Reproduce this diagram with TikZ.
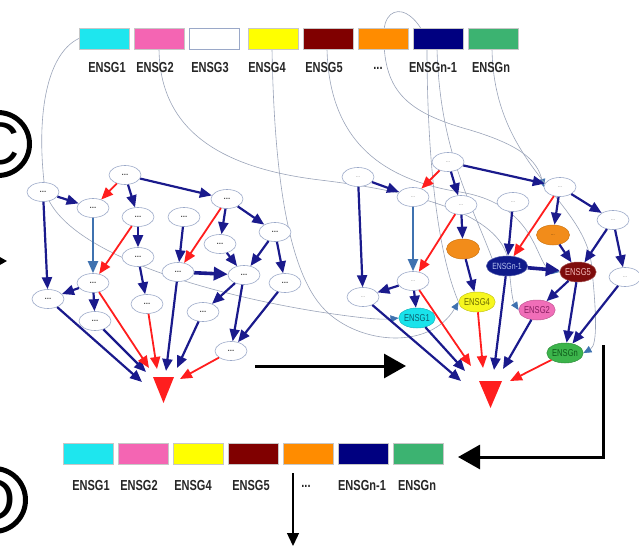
\documentclass[tikz,border=0pt]{standalone}
\usepackage{fontspec}
\setmainfont{Liberation Sans}
\newfontfamily\lblfont[FakeStretch=0.76]{Liberation Sans}
\usetikzlibrary{arrows.meta,shapes.geometric}
\pgfdeclarelayer{bg}
\pgfsetlayers{bg,main}
\definecolor{nvc}{HTML}{1A1A8C}
\definecolor{rdc}{HTML}{FF1E1E}
\definecolor{sbc}{HTML}{3F72B0}
\definecolor{mpc}{HTML}{9AA3B8}
\definecolor{bdc}{HTML}{9AA8C8}
\definecolor{cyn}{HTML}{1EE6EE}
\definecolor{pnk}{HTML}{F465B3}
\definecolor{ylw}{HTML}{FFFF00}
\definecolor{mrn}{HTML}{800000}
\definecolor{org}{HTML}{FF8C00}
\definecolor{nvy}{HTML}{000080}
\definecolor{grn}{HTML}{3CB371}
\definecolor{cynN}{HTML}{19E3EB}\definecolor{cynT}{HTML}{0B5E6E}
\definecolor{ylwN}{HTML}{F7F71E}\definecolor{ylwT}{HTML}{6B6B00}
\definecolor{pnkN}{HTML}{F06EB8}\definecolor{pnkT}{HTML}{8A1F62}
\definecolor{mrnN}{HTML}{7E0C0C}\definecolor{mrnT}{HTML}{F2B8B8}
\definecolor{nvyN}{HTML}{0F1A8A}\definecolor{nvyT}{HTML}{B8C4F0}
\definecolor{grnN}{HTML}{3CB44B}\definecolor{grnT}{HTML}{0E5A1A}
\definecolor{orgN}{HTML}{F28C1A}
\begin{document}
\begin{tikzpicture}[x=1pt,y=-1pt,
  bx/.style={draw=black!22, line width=0.5pt, minimum width=50pt, minimum height=21pt, inner sep=0pt},
  lb/.style={font=\lblfont\bfseries\fontsize{14.5}{14.5}\selectfont, text=black!85, inner sep=0pt},
  wn/.style={ellipse, draw=bdc, line width=0.6pt, fill=white, minimum width=32pt, minimum height=19pt, inner sep=0pt, font=\fontsize{8}{8}\selectfont\bfseries, text=black!70},
  wr/.style={wn, font=\fontsize{5}{5}\selectfont, text=black!60},
  cn/.style={ellipse, line width=0.5pt, minimum width=33pt, minimum height=20pt, inner sep=0pt, font=\lblfont\fontsize{10}{10}\selectfont},
  nv/.style={draw=nvc, line width=2.2pt, -{Triangle[length=12pt,width=10pt]}},
  nvk/.style={draw=nvc, line width=3.6pt, -{Triangle[length=14pt,width=13pt]}},
  rd/.style={draw=rdc, line width=1.8pt, -{Triangle[length=12pt,width=10pt]}},
  sb/.style={draw=sbc, line width=2pt, -{Triangle[length=12pt,width=10pt]}},
  mp/.style={draw=mpc, line width=0.6pt, -{Triangle[length=8pt,width=7pt,color=sbc]}},
  mq/.style={draw=mpc, line width=0.6pt},
  bk/.style={draw=black, line width=3pt, -{Triangle[length=22pt,width=24pt]}},
  tk/.style={draw=black, line width=1.3pt, -{Triangle[length=13pt,width=12pt]}},
  tri/.style={fill=rdc},
  ring/.style={circle, draw=black, line width=5pt, minimum size=63pt, inner sep=0pt, font=\fontsize{60}{60}\selectfont}
]
\useasboundingbox (0,0) rectangle (639,551);
\clip (0,0) rectangle (639,551);

% ---------- panel letters ----------
\node[ring] (pc) at (-2,144) {C};
\node[ring] (pd) at (-6,500) {D};
\coordinate (la0) at (-40,261);
\coordinate (la1) at (7,261);
\draw[bk] (la0) -- (la1);

% ---------- top bar ----------
\node[bx, fill=cyn] (t1) at (104,38.5) {};
\node[bx, fill=pnk] (t2) at (159,38.5) {};
\node[bx, fill=white, draw=bdc] (t3) at (214,38.5) {};
\node[bx, fill=ylw] (t4) at (273,38.5) {};
\node[bx, fill=mrn] (t5) at (328,38.5) {};
\node[bx, fill=org] (t6) at (383,38.5) {};
\node[bx, fill=nvy] (t7) at (438,38.5) {};
\node[bx, fill=grn] (t8) at (493,38.5) {};
\node[lb] (tl1) at (107,68) {ENSG1};
\node[lb] (tl2) at (155,68) {ENSG2};
\node[lb] (tl3) at (210,68) {ENSG3};
\node[lb] (tl4) at (267,68) {ENSG4};
\node[lb] (tl5) at (324,68) {ENSG5};
\node[lb] (tl6) at (378,68) {...};
\node[lb] (tl7) at (433,68) {ENSGn-1};
\node[lb] (tl8) at (491,68) {ENSGn};

% ---------- bottom bar ----------
\node[bx, fill=cyn] (b1) at (88,453.5) {};
\node[bx, fill=pnk] (b2) at (143,453.5) {};
\node[bx, fill=ylw] (b3) at (198,453.5) {};
\node[bx, fill=mrn] (b4) at (253,453.5) {};
\node[bx, fill=org] (b5) at (308,453.5) {};
\node[bx, fill=nvy] (b6) at (363,453.5) {};
\node[bx, fill=grn] (b7) at (418,453.5) {};
\node[lb] (bl1) at (91,486) {ENSG1};
\node[lb] (bl2) at (139,486) {ENSG2};
\node[lb] (bl3) at (193,486) {ENSG4};
\node[lb] (bl4) at (251,486) {ENSG5};
\node[lb] (bl5) at (306,486) {...};
\node[lb] (bl6) at (362,486) {ENSGn-1};
\node[lb] (bl7) at (417,486) {ENSGn};

% ---------- big arrows ----------
\coordinate (h1) at (255,366);
\coordinate (h2) at (406,366);
\draw[bk] (h1) -- (h2);
\coordinate (v1) at (603,345);
\coordinate (v2) at (603,457);
\coordinate (v3) at (458,457);
\draw[bk] (v1) -- (v2) -- (v3);
\coordinate (d1) at (293,473);
\coordinate (d2) at (293,546);
\draw[tk] (d1) -- (d2);

% ---------- left network ----------
\node[wn] (A) at (125,175) {...};
\node[wn] (B) at (43,192) {...};
\node[wn] (C) at (93,208) {...};
\node[wn] (D) at (138,217) {...};
\node[wn] (E) at (184,217) {...};
\node[wn] (F) at (227,199) {...};
\node[wn] (G) at (275,232) {...};
\node[wn] (H) at (220,244) {...};
\node[wn] (I) at (138,257) {...};
\node[wn] (J) at (178,272) {...};
\node[wn] (K) at (244,275) {...};
\node[wn] (L) at (93,283) {...};
\node[wn] (M) at (48,299) {...};
\node[wn] (N) at (147,304) {...};
\node[wn] (O) at (285,283) {...};
\node[wn] (P) at (203,312) {...};
\node[wn] (Q) at (95,321) {...};
\node[wn] (R) at (231,351) {...};
\fill[tri] (153,377) -- (174,377) -- (163.5,403) -- cycle;
\coordinate (TL) at (163.5,386);
\coordinate (tLm) at (142,382);
\coordinate (tLq) at (146,372);
\coordinate (tLl) at (149,368);
\coordinate (tLn) at (157,369);
\coordinate (tLj) at (166,371);
\coordinate (tLp) at (177,368);
\coordinate (tLr) at (180,379);

\draw[rd] (A) -- (C);
\draw[nv] (A) -- (D);
\draw[nv] (A) -- (F);
\draw[nv] (B) -- (C);
\draw[nv] (B) -- (M);
\draw[sb] (C) -- (L);
\draw[nv] (D) -- (I);
\draw[rd] (D) -- (L);
\draw[nv] (I) -- (N);
\draw[nv] (E) -- (J);
\draw[rd] (F) -- (J);
\draw[nv] (F) -- (H);
\draw[nv] (F) -- (G);
\draw[nv] (H) -- (K);
\draw[nv] (G) -- (K);
\draw[nv] (G) -- (O);
\draw[nvk] (J) -- (K);
\draw[nv] (K) -- (P);
\draw[nv] (K) -- (R);
\draw[nv] (O) -- (R);
\draw[nv] (L) -- (M);
\draw[nv] (L) -- (Q);
\draw[nv] (M) -- (tLm);
\draw[nv] (Q) -- (tLq);
\draw[rd] (L) -- (tLl);
\draw[rd] (N) -- (tLn);
\draw[nv] (J) -- (tLj);
\draw[nv] (P) -- (tLp);
\draw[rd] (R) -- (tLr);

% ---------- right network ----------
\node[wr] (a) at (448,162) {...};
\node[wr] (b) at (358,177) {...};
\node[wr] (c) at (413,197) {...};
\node[wr] (d) at (461,205) {...};
\node[wr] (e) at (513,202) {...};
\node[wr] (f) at (560,187) {...};
\node[wr] (g) at (613,220) {...};
\node[wr] (h) at (625,277) {...};
\node[wr] (i) at (413,281) {...};
\node[wr] (j) at (363,297) {...};
\node[cn, fill=orgN, draw=orgN!85!black] (o1) at (463,249) {};
\node[cn, fill=orgN, draw=orgN!85!black, font=\fontsize{4}{4}\selectfont] (o2) at (553,235) {...};
\node[cn, fill=nvyN, draw=nvyN!70!white, text=nvyT, font=\lblfont\fontsize{9}{9}\selectfont] (n1) at (507,266) {ENSGn-1};
\node[cn, fill=mrnN, draw=mrnN!70!white, text=mrnT] (e5) at (578,272) {ENSG5};
\node[cn, fill=cynN, draw=cynN!80!black, text=cynT] (e1) at (417,318) {ENSG1};
\node[cn, fill=ylwN, draw=ylwN!80!black, text=ylwT] (e4) at (477,302) {ENSG4};
\node[cn, fill=pnkN, draw=pnkN!80!black, text=pnkT] (e2) at (537,310) {ENSG2};
\node[cn, fill=grnN, draw=grnN!80!black, text=grnT] (en) at (565,353) {ENSGn};
\fill[tri] (479,381) -- (502,381) -- (490.5,408) -- cycle;
\coordinate (TR) at (490.5,390);
\coordinate (tRj) at (461,381);
\coordinate (tR1) at (465,371);
\coordinate (tRi) at (471,366);
\coordinate (tR4) at (483,368);
\coordinate (tRn) at (494,370);
\coordinate (tR2) at (503,369);
\coordinate (tRe) at (510,381);

\draw[rd] (a) -- (c);
\draw[nv] (a) -- (d);
\draw[nv] (a) -- (f);
\draw[nv] (b) -- (c);
\draw[nv] (b) -- (j);
\draw[sb] (c) -- (i);
\draw[nv] (d) -- (o1);
\draw[rd] (d) -- (i);
\draw[nv] (o1) -- (e4);
\draw[nv] (e) -- (n1);
\draw[rd] (f) -- (n1);
\draw[nv] (f) -- (o2);
\draw[nv] (f) -- (g);
\draw[nv] (o2) -- (e5);
\draw[nv] (g) -- (e5);
\draw[nv] (g) -- (h);
\draw[nvk] (n1) -- (e5);
\draw[nv] (e5) -- (e2);
\draw[nv] (e5) -- (en);
\draw[nv] (h) -- (en);
\draw[nv] (i) -- (j);
\draw[nv] (i) -- (e1);
\draw[nv] (j) -- (tRj);
\draw[nv] (e1) -- (tR1);
\draw[rd] (i) -- (tRi);
\draw[rd] (e4) -- (tR4);
\draw[nv] (n1) -- (tRn);
\draw[nv] (e2) -- (tR2);
\draw[rd] (en) -- (tRe);

% ---------- mapping curves (background) ----------
\begin{pgfonlayer}{bg}
\draw[mp] (t1.west) .. controls (45,55) and (36,120) .. (45,190)
  .. controls (60,250) and (200,293) .. (320,312)
  .. controls (360,318) and (380,320) .. (e1.west);
\draw[mp] (t2.south) .. controls (160,130) and (220,168) .. (320,180)
  .. controls (420,192) and (500,215) .. (508,260)
  .. controls (511,285) and (512,300) .. (e2.west);
\draw[mp] (t4.south -| 272,0) .. controls (274,160) and (285,270) .. (325,310)
  .. controls (360,345) and (430,350) .. (e4.west);
\draw[mp] (t5.south -| 327,0) .. controls (329,130) and (370,178) .. (460,192)
  .. controls (540,205) and (535,268) .. (e5.west);
\draw[mp] (e4.west) .. controls (432,240) and (427,120) .. (427,49)
  .. controls (427,35) and (418,22) .. (410,16)
  .. controls (400,8) and (386,10) .. (384,30)
  .. controls (382,90) and (405,112) .. (470,130)
  .. controls (520,145) and (537,160) .. (f.west);
\draw[mq] (t7.south -| 437,0) .. controls (440,150) and (470,200) .. (n1.north west);
\draw[mp] (t8.south -| 492,0) .. controls (494,170) and (588,200) .. (592,270)
  .. controls (596,310) and (598,345) .. (en.east);
\end{pgfonlayer}
\end{tikzpicture}
\end{document}
